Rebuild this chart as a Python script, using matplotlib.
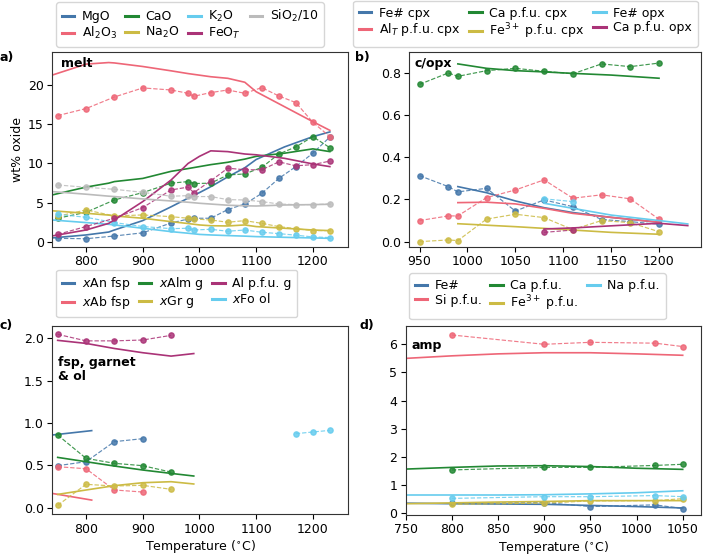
import numpy as np
import matplotlib
matplotlib.use("Agg")
import matplotlib.pyplot as plt

BLUE, RED, GREEN, YELLOW, CYAN, PURPLE, GREY = "#4477AA", "#EE6677", "#228833", "#CCBB44", "#66CCEE", "#AA3377", "#BBBBBB"

# ---------------- panel a: melt ----------------
a_T_exp = [750, 800, 850, 900, 950, 980, 990, 1020, 1050, 1080, 1110, 1140, 1170, 1200, 1230]
a_MgO_exp = [0.5, 0.45, 0.8, 1.2, 2.45, 2.95, 3.05, 3.05, 4.15, 4.86, 6.2, 8.1, 9.6, 11.3, 13.35]
a_Al2O3_exp = [16.07, 16.96, 18.43, 19.58, 19.32, 18.9, 18.52, 18.99, 19.32, 18.9, 19.62, 18.56, 17.72, 15.22, 13.4]
a_CaO_exp = [3.05, 3.8, 5.37, 6.3, 7.5, 7.7, 7.45, 7.5, 8.54, 8.67, 9.5, 11.2, 12.1, 13.4, 12.0]
a_Na2O_exp = [3.3, 4.1, 3.34, 3.47, 3.25, 3.05, 2.96, 2.83, 2.54, 2.75, 2.4, 1.99, 1.73, 1.48, 1.48]
a_K2O_exp = [3.55, 3.17, 2.5, 2.0, 1.73, 1.78, 1.56, 1.65, 1.4, 1.56, 1.27, 1.1, 0.9, 0.68, 0.6]
a_FeO_exp = [1.0, 2.0, 3.05, 4.4, 6.64, 7.0, 6.3, 7.8, 9.4, 9.2, 9.2, 10.2, 9.7, 9.85, 10.3]
a_SiO2_exp = [7.27, 6.98, 6.72, 6.34, 5.84, 5.92, 5.8, 5.8, 5.41, 5.37, 5.16, 4.86, 4.78, 4.78, 4.86]

a_T_mod = [740, 800, 840, 850, 900, 950, 980, 1000, 1020, 1050, 1080, 1100, 1150, 1200, 1230]
a_MgO_mod = [0.55, 0.93, 1.3, 1.56, 2.75, 4.5, 5.6, 6.3, 7.05, 8.3, 9.45, 10.5, 12.1, 13.4, 14.0]
a_Al2O3_mod = [21.2, 22.6, 22.8, 22.75, 22.3, 21.75, 21.4, 21.2, 21.0, 20.8, 20.3, 19.1, 17.2, 15.3, 14.2]
a_CaO_mod = [6.0, 7.0, 7.5, 7.7, 8.1, 9.0, 9.35, 9.6, 9.85, 10.15, 10.55, 10.9, 11.3, 11.85, 11.5]
a_Na2O_mod = [4.0, 3.68, 3.45, 3.34, 3.05, 2.62, 2.38, 2.2, 2.1, 2.07, 2.2, 1.99, 1.78, 1.56, 1.48]
a_K2O_mod = [2.83, 2.5, 2.28, 2.2, 1.78, 1.35, 1.15, 1.0, 0.93, 0.85, 0.78, 0.72, 0.63, 0.55, 0.5]
a_FeO_mod = [0.8, 1.56, 2.4, 2.83, 5.16, 7.9, 10.0, 10.9, 11.6, 11.5, 11.2, 11.1, 10.65, 9.94, 9.6]
a_SiO2_mod = [6.43, 6.1, 5.85, 5.8, 5.5, 5.24, 5.08, 4.95, 4.85, 4.7, 4.63, 4.6, 4.73, 4.78, 4.82]

# ---------------- panel b: c/opx ----------------
b_T_cpx = [950, 980, 990, 1020, 1050, 1080, 1110, 1140, 1170, 1200]
b_FeCpx_exp = [0.313, 0.261, 0.236, 0.253, 0.145, 0.198, 0.166, 0.105, 0.095, 0.082]
b_AlCpx_exp = [0.1, 0.122, 0.122, 0.209, 0.245, 0.293, 0.206, 0.222, 0.203, 0.106]
b_CaCpx_exp = [0.746, 0.8, 0.784, 0.811, 0.822, 0.808, 0.796, 0.843, 0.83, 0.847]
b_Fe3Cpx_exp = [0.0, 0.008, 0.005, 0.107, 0.13, 0.114, 0.057, 0.1, 0.09, 0.047]
b_T_opx = [1080, 1110]
b_FeOpx_exp = [0.203, 0.19]
b_CaOpx_exp = [0.044, 0.055]

b_T_cpx_mod = [990, 1020, 1050, 1080, 1110, 1150, 1200]
b_FeCpx_mod = [0.261, 0.232, 0.193, 0.161, 0.138, 0.115, 0.092]
b_AlCpx_mod = [0.185, 0.187, 0.179, 0.158, 0.134, 0.115, 0.092]
b_CaCpx_mod = [0.843, 0.822, 0.811, 0.805, 0.798, 0.79, 0.775]
b_Fe3Cpx_mod = [0.085, 0.078, 0.071, 0.063, 0.055, 0.044, 0.035]
b_T_opx_mod = [1080, 1110, 1150, 1200, 1230]
b_FeOpx_mod = [0.182, 0.158, 0.126, 0.1, 0.084]
b_CaOpx_mod = [0.06, 0.065, 0.075, 0.087, 0.076]

# ---------------- panel c: fsp, garnet & ol ----------------
c_T_exp = [750, 800, 850, 900]
c_An_exp = [0.496, 0.543, 0.78, 0.815]
c_Ab_exp = [0.484, 0.46, 0.209, 0.185]
c_T_g = [750, 800, 850, 900, 950]
c_Alm_exp = [0.858, 0.583, 0.524, 0.496, 0.42]
c_Gr_exp = [0.028, 0.276, 0.256, 0.264, 0.217]
c_Alg_exp = [2.047, 1.97, 1.97, 1.98, 2.035]
c_T_ol = [1170, 1200, 1230]
c_Fo_exp = [0.874, 0.894, 0.913]

c_T_fsp_mod = [740, 810]
c_An_mod = [0.858, 0.91]
c_Ab_mod = [0.169, 0.09]
c_T_g_mod = [750, 800, 850, 900, 950, 990]
c_Alm_mod = [0.594, 0.543, 0.492, 0.445, 0.405, 0.374]
c_Gr_mod = [0.157, 0.209, 0.26, 0.295, 0.307, 0.28]
c_Alg_mod = [1.976, 1.94, 1.88, 1.83, 1.79, 1.82]

# ---------------- panel d: amp ----------------
d_T_exp = [800, 900, 950, 1020, 1050]
d_Fe_exp = [0.36, 0.38, 0.24, 0.3, 0.17]
d_Si_exp = [6.33, 6.0, 6.07, 6.04, 5.92]
d_Ca_exp = [1.54, 1.63, 1.63, 1.7, 1.74]
d_Fe3_exp = [0.32, 0.36, 0.44, 0.45, 0.52]
d_Na_exp = [0.53, 0.59, 0.59, 0.63, 0.59]

d_T_mod = [750, 800, 850, 900, 950, 1000, 1050]
d_Fe_mod = [0.36, 0.34, 0.33, 0.32, 0.28, 0.24, 0.19]
d_Si_mod = [5.5, 5.59, 5.66, 5.7, 5.7, 5.66, 5.61]
d_Ca_mod = [1.57, 1.63, 1.68, 1.69, 1.66, 1.6, 1.56]
d_Fe3_mod = [0.34, 0.37, 0.4, 0.42, 0.45, 0.45, 0.45]
d_Na_mod = [0.65, 0.65, 0.65, 0.66, 0.69, 0.73, 0.8]

FS = 9
plt.rcParams['font.family'] = ['DejaVu Sans']
plt.rcParams['font.size'] = FS

W, H = 708, 558
fig = plt.figure(figsize=(W / 100, H / 100), dpi=100)

def add_ax(x0, y0, x1, y1):
    return fig.add_axes([x0 / W, 1 - y1 / H, (x1 - x0) / W, (y1 - y0) / H])

axa = add_ax(52, 52.3, 348, 246.7)
axb = add_ax(409, 52.3, 700.7, 246.7)
axc = add_ax(52, 325.7, 348, 514.3)
axd = add_ax(405.7, 325.7, 700.7, 515)

def model(ax, x, y, c, label=None):
    ax.plot(x, y, '-', color=c, lw=1.2, label=label)

def exp(ax, x, y, c):
    ax.plot(x, y, '--', color=c, lw=0.85, marker='o', ms=3.8, alpha=0.85)

# panel a
for yexp, ymod, c, lab in [
    (a_MgO_exp, a_MgO_mod, BLUE, "MgO"),
    (a_Al2O3_exp, a_Al2O3_mod, RED, "Al$_2$O$_3$"),
    (a_CaO_exp, a_CaO_mod, GREEN, "CaO"),
    (a_Na2O_exp, a_Na2O_mod, YELLOW, "Na$_2$O"),
    (a_K2O_exp, a_K2O_mod, CYAN, "K$_2$O"),
    (a_FeO_exp, a_FeO_mod, PURPLE, "FeO$_T$"),
    (a_SiO2_exp, a_SiO2_mod, GREY, "SiO$_2$/10"),
]:
    model(axa, a_T_mod, ymod, c, lab)
    exp(axa, a_T_exp, yexp, c)
axa.set_xlim(740, 1262)
axa.set_ylim(-0.56, 24.1)
axa.set_xticks([800, 900, 1000, 1100, 1200])
axa.set_yticks([0, 5, 10, 15, 20])
axa.set_ylabel("wt% oxide", labelpad=3)

# panel b
for T, yexp, Tm, ymod, c, lab in [
    (b_T_cpx, b_FeCpx_exp, b_T_cpx_mod, b_FeCpx_mod, BLUE, "Fe# cpx"),
    (b_T_cpx, b_AlCpx_exp, b_T_cpx_mod, b_AlCpx_mod, RED, "Al$_T$ p.f.u. cpx"),
    (b_T_cpx, b_CaCpx_exp, b_T_cpx_mod, b_CaCpx_mod, GREEN, "Ca p.f.u. cpx"),
    (b_T_cpx, b_Fe3Cpx_exp, b_T_cpx_mod, b_Fe3Cpx_mod, YELLOW, "Fe$^{3+}$ p.f.u. cpx"),
    (b_T_opx, b_FeOpx_exp, b_T_opx_mod, b_FeOpx_mod, CYAN, "Fe# opx"),
    (b_T_opx, b_CaOpx_exp, b_T_opx_mod, b_CaOpx_mod, PURPLE, "Ca p.f.u. opx"),
]:
    model(axb, Tm, ymod, c, lab)
    exp(axb, T, yexp, c)
axb.set_xlim(939, 1243.5)
axb.set_ylim(-0.024, 0.898)
axb.set_xticks([950, 1000, 1050, 1100, 1150, 1200])
axb.set_yticks([0.0, 0.2, 0.4, 0.6, 0.8])

# panel c
model(axc, c_T_fsp_mod, c_An_mod, BLUE, "$x$An fsp")
exp(axc, c_T_exp, c_An_exp, BLUE)
model(axc, c_T_fsp_mod, c_Ab_mod, RED, "$x$Ab fsp")
exp(axc, c_T_exp, c_Ab_exp, RED)
model(axc, c_T_g_mod, c_Alm_mod, GREEN, "$x$Alm g")
exp(axc, c_T_g, c_Alm_exp, GREEN)
model(axc, c_T_g_mod, c_Gr_mod, YELLOW, "$x$Gr g")
exp(axc, c_T_g, c_Gr_exp, YELLOW)
model(axc, c_T_g_mod, c_Alg_mod, PURPLE, "Al p.f.u. g")
exp(axc, c_T_g, c_Alg_exp, PURPLE)
axc.plot([], [], '-', color=CYAN, lw=1.2, label="$x$Fo ol")
exp(axc, c_T_ol, c_Fo_exp, CYAN)
axc.set_xlim(740, 1262)
axc.set_ylim(-0.078, 2.149)
axc.set_xticks([800, 900, 1000, 1100, 1200])
axc.set_yticks([0.0, 0.5, 1.0, 1.5, 2.0])
axc.set_xlabel("Temperature ($^{\\circ}$C)", labelpad=2)

# panel d
for yexp, ymod, c, lab in [
    (d_Fe_exp, d_Fe_mod, BLUE, "Fe#"),
    (d_Si_exp, d_Si_mod, RED, "Si p.f.u."),
    (d_Ca_exp, d_Ca_mod, GREEN, "Ca p.f.u."),
    (d_Fe3_exp, d_Fe3_mod, YELLOW, "Fe$^{3+}$ p.f.u."),
    (d_Na_exp, d_Na_mod, CYAN, "Na p.f.u."),
]:
    model(axd, d_T_mod, ymod, c, lab)
    exp(axd, d_T_exp, yexp, c)
axd.set_xlim(750, 1069.5)
axd.set_ylim(-0.06, 6.66)
axd.set_xticks([750, 800, 850, 900, 950, 1000, 1050])
axd.set_yticks([0, 1, 2, 3, 4, 5, 6])
axd.set_xlabel("Temperature ($^{\\circ}$C)", labelpad=2)

for ax in (axa, axb, axc, axd):
    for s in ax.spines.values():
        s.set_color('#333333')
        s.set_linewidth(0.8)
    ax.tick_params(pad=2.5)

leg_kw = dict(loc='lower left', borderaxespad=0, handlelength=1.0, handletextpad=0.6,
              columnspacing=0.7, fontsize=FS, bbox_transform=fig.transFigure, labelspacing=0.15,
              borderpad=0.45)

def place_leg(ax, x, ybottom, ncol):
    h, l = ax.get_legend_handles_labels()
    lg = ax.legend(h, l, ncol=ncol, bbox_to_anchor=(x / W, 1 - ybottom / H), **leg_kw)
    for line in lg.get_lines():
        line.set_linewidth(2.2)
    return lg

place_leg(axa, 56, 46.7, 4)
place_leg(axb, 353, 46.7, 3)
place_leg(axc, 56, 317, 3)
place_leg(axd, 409, 319, 3)

# panel labels
for x, y, t in [(0, 58, "a)"), (355, 58, "b)"), (0, 326, "c)"), (360, 326, "d)")]:
    fig.text(x / W, 1 - y / H, t, fontweight='bold', fontsize=FS, va='center', ha='left')

axa.text(0.03, 0.975, "melt", transform=axa.transAxes, fontweight='bold', va='top', ha='left')
axb.text(0.02, 0.975, "c/opx", transform=axb.transAxes, fontweight='bold', va='top', ha='left')
axc.text(0.02, 0.84, "fsp, garnet\n& ol", transform=axc.transAxes, fontweight='bold', va='top', ha='left',
         linespacing=1.1)
axd.text(0.02, 0.93, "amp", transform=axd.transAxes, fontweight='bold', va='top', ha='left')

fig.savefig("out.png", dpi=100)
